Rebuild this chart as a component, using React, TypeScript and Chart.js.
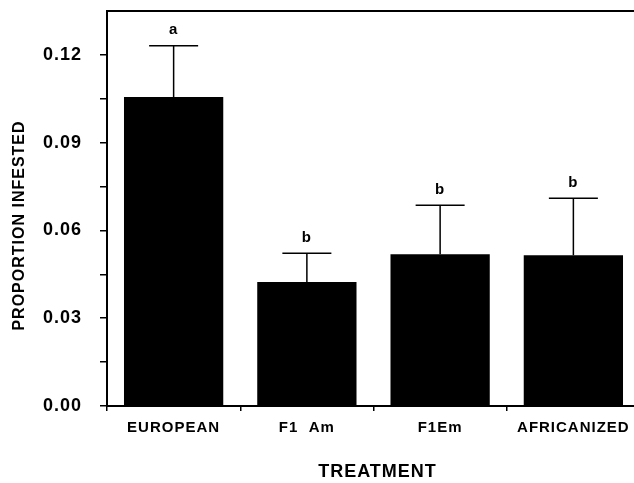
import React, { useEffect, useRef } from "react";
import { Chart, registerables } from "chart.js";

Chart.register(...registerables);

const categories = ["EUROPEAN", "F1  Am", "F1Em", "AFRICANIZED"];
const means = [0.1056, 0.0424, 0.0519, 0.0515];
const errors = [0.0175, 0.0098, 0.0167, 0.0195];
const letters = ["a", "b", "b", "b"];
const yMax = 0.135;
const yStep = 0.015;
const xTitle = "TREATMENT";
const yTitle = "PROPORTION INFESTED";

const FONT = "'Liberation Sans', Arial, Helvetica, sans-serif";

export default function App() {
  const ref = useRef<HTMLCanvasElement | null>(null);

  useEffect(() => {
    document.documentElement.style.overflow = "hidden";
    document.body.style.margin = "0";
    document.body.style.overflow = "hidden";
    const canvas = ref.current!;

    const spacingPlugin = {
      id: "spacing",
      beforeDraw(chart: any) {
        (chart.ctx as any).letterSpacing = "1px";
      },
    };

    const extrasPlugin = {
      id: "extras",
      afterDraw(chart: any) {
        const ctx = chart.ctx;
        const area = chart.chartArea;
        const ys = chart.scales.y;
        const meta = chart.getDatasetMeta(0);
        ctx.save();
        (ctx as any).letterSpacing = "1px";
        ctx.strokeStyle = "#000";
        ctx.fillStyle = "#000";
        // top frame line
        ctx.lineWidth = 2;
        ctx.beginPath();
        ctx.moveTo(area.left - 1, area.top);
        ctx.lineTo(chart.width, area.top);
        ctx.stroke();
        // error bars + letters
        ctx.lineWidth = 1.5;
        ctx.font = `bold 15px ${FONT}`;
        ctx.textAlign = "center";
        ctx.textBaseline = "middle";
        means.forEach((m, i) => {
          const x = meta.data[i].x;
          const yb = ys.getPixelForValue(m);
          const yt = ys.getPixelForValue(m + errors[i]);
          ctx.beginPath();
          ctx.moveTo(x, yb);
          ctx.lineTo(x, yt);
          ctx.moveTo(x - 24.5, yt);
          ctx.lineTo(x + 24.5, yt);
          ctx.stroke();
          ctx.fillText(letters[i], x, yt - 15.5);
        });
        // axis titles
        ctx.font = `bold 18px ${FONT}`;
        ctx.fillText(xTitle, 377.5, 472.5);
        ctx.save();
        ctx.translate(19.5, 225.5);
        ctx.rotate(-Math.PI / 2);
        ctx.font = `bold 16px ${FONT}`;
        ctx.fillText(yTitle, 0, 0);
        ctx.restore();
        ctx.restore();
      },
    };

    const chart = new Chart(canvas, {
      type: "bar",
      data: {
        labels: categories,
        datasets: [
          {
            data: means,
            backgroundColor: "#000",
            borderWidth: 0,
            barPercentage: 0.745,
            categoryPercentage: 1,
          },
        ],
      },
      options: {
        animation: false,
        responsive: false,
        devicePixelRatio: 1,
        layout: { padding: { top: 11, right: 5, left: 0, bottom: 0 } },
        plugins: {
          legend: { display: false },
          tooltip: { enabled: false },
          title: { display: false },
        },
        scales: {
          x: {
            offset: true,
            afterFit(scale: any) {
              scale.height = 77;
              scale.paddingLeft = 0;
              scale.paddingRight = 0;
            },
            grid: {
              offset: true,
              drawOnChartArea: false,
              drawTicks: true,
              tickLength: 5,
              color: "#000",
              lineWidth: 1.5,
            },
            border: { display: true, color: "#000", width: 2 },
            ticks: {
              color: "#000",
              padding: 8,
              maxRotation: 0,
              autoSkip: false,
              font: { family: FONT, size: 15, weight: "bold" },
            },
          },
          y: {
            min: 0,
            max: yMax,
            afterFit(scale: any) {
              scale.width = 107;
              scale.paddingTop = 0;
              scale.paddingBottom = 0;
            },
            grid: {
              drawOnChartArea: false,
              drawTicks: true,
              tickLength: 7,
              color: "#000",
              lineWidth: 1.5,
            },
            border: { display: true, color: "#000", width: 2 },
            ticks: {
              stepSize: yStep,
              color: "#000",
              padding: 18,
              font: { family: FONT, size: 18, weight: "bold" },
              callback(value: any, index: number) {
                const v = Number(value);
                if (Math.abs(v - yMax) < 1e-9) return null;
                if (index % 2 !== 0) return "";
                return v.toFixed(2);
              },
            },
          },
        },
      },
      plugins: [spacingPlugin, extrasPlugin],
    } as any);

    return () => chart.destroy();
  }, []);

  return (
    <div style={{ position: "fixed", left: 0, top: 0, width: 645, height: 483, background: "#fff" }}>
      <canvas ref={ref} width={645} height={483} style={{ display: "block" }} />
    </div>
  );
}
